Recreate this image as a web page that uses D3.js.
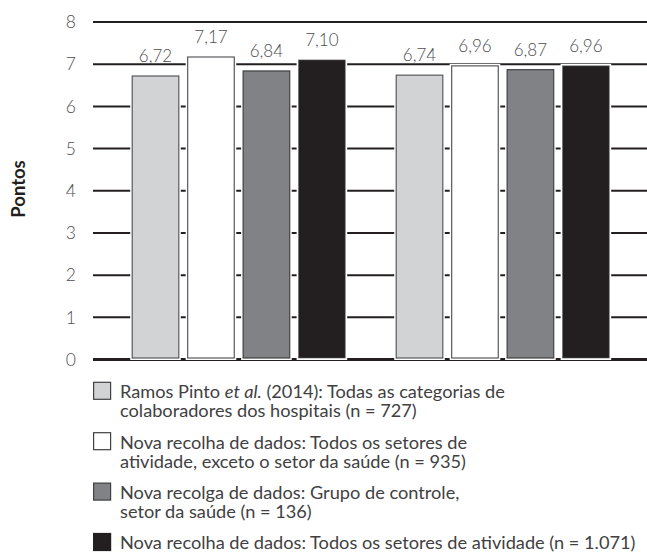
<!DOCTYPE html>
<html>
<head>
<meta charset="utf-8">
<script src="https://cdn.jsdelivr.net/npm/d3@7"></script>
<style>
  html, body { margin: 0; padding: 0; background: #fff; }
  svg { display: block; }
  text { font-family: Lato, "Open Sans", sans-serif; }
</style>
</head>
<body>
<svg id="chart" width="647" height="552"></svg>
<script>
// ---- data ----
const groups = ["Grupo A", "Grupo B"];
const seriesKeys = ["s1", "s2", "s3", "s4"];
const groupAValues = [6.72, 7.17, 6.84, 7.10];
const groupBValues = [6.74, 6.96, 6.87, 6.96];
const yTicks = [0, 1, 2, 3, 4, 5, 6, 7, 8];
const yTitle = "Pontos";
const legendLines = [
  [[{t: "Ramos Pinto "}, {t: "et al.", i: true}, {t: " (2014): Todas as categorias de"}], [{t: "colaboradores dos hospitais (n = 727)"}]],
  [[{t: "Nova recolha de dados: Todos os setores de"}], [{t: "atividade, exceto o setor da saúde (n = 935)"}]],
  [[{t: "Nova recolga de dados: Grupo de controle,"}], [{t: "setor da saúde (n = 136)"}]],
  [[{t: "Nova recolha de dados: Todos os setores de atividade (n = 1.071)"}]]
];
const fills = ["#d1d3d4", "#ffffff", "#808285", "#231f20"];
const strokes = ["#58595b", "#58595b", "#414042", "#58595b"];

const table = groups.map((g, gi) => ({
  group: g,
  values: seriesKeys.map((k, si) => ({key: k, si, value: (gi === 0 ? groupAValues : groupBValues)[si]}))
}));

// ---- layout ----
const svg = d3.select("#chart");
const plotLeft = 93, plotRight = 647;
const y = d3.scaleLinear().domain([0, 8]).range([359.5, 22]);
const x0 = d3.scaleBand().domain(groups).range([106.7, 634.7]).padding(0);
const x1 = d3.scaleBand().domain(seriesKeys).range([0, x0.bandwidth()]).paddingInner(0.16).paddingOuter(0.46);

const textColor = "#414042";

// gridlines
svg.append("g").selectAll("line").data(yTicks).join("line")
  .attr("x1", plotLeft).attr("x2", plotRight)
  .attr("y1", d => y(d)).attr("y2", d => y(d))
  .attr("stroke", "#231f20")
  .attr("stroke-width", d => d === 0 ? 3 : 2);

// tick labels
svg.append("g").selectAll("text").data(yTicks).join("text")
  .attr("x", 76).attr("y", d => y(d))
  .attr("dy", "0.36em")
  .attr("text-anchor", "end")
  .attr("font-size", 17.5)
  .attr("font-weight", 300)
  .attr("fill", "#4d4d4f")
  .text(d => d);

// bars
const gGroups = svg.append("g").selectAll("g").data(table).join("g")
  .attr("transform", d => `translate(${x0(d.group)},0)`);

gGroups.selectAll("rect.halo").data(d => d.values).join("rect")
  .attr("class", "halo")
  .attr("x", d => x1(d.key)).attr("width", x1.bandwidth())
  .attr("y", d => y(d.value)).attr("height", d => y(0) - y(d.value) - 1.5)
  .attr("fill", "#fff").attr("stroke", "#fff").attr("stroke-width", 4);

gGroups.selectAll("rect.bar").data(d => d.values).join("rect")
  .attr("class", "bar")
  .attr("x", d => x1(d.key)).attr("width", x1.bandwidth())
  .attr("y", d => y(d.value)).attr("height", d => y(0) - y(d.value) - 1.5)
  .attr("fill", d => fills[d.si])
  .attr("stroke", d => strokes[d.si])
  .attr("stroke-width", d => d.si === 3 ? 0.6 : 1.2);

// value labels
const fmt = v => d3.format(".2f")(v).replace(".", ",");
gGroups.selectAll("text").data(d => d.values).join("text")
  .attr("x", d => x1(d.key) + x1.bandwidth() / 2)
  .attr("y", d => y(d.value) - 14)
  .attr("text-anchor", "middle")
  .attr("font-size", 17)
  .attr("font-weight", 300)
  .attr("fill", "#4d4d4f")
  .text(d => fmt(d.value));

// y title
svg.append("text")
  .attr("transform", `translate(24.5,189) rotate(-90)`)
  .attr("text-anchor", "middle")
  .attr("font-size", 18.5)
  .attr("font-weight", 700)
  .attr("fill", "#231f20")
  .text(yTitle);

// legend
const legTop = 381.7, legStep = 50.4, lineH = 19;
const leg = svg.append("g").selectAll("g").data(legendLines).join("g")
  .attr("transform", (d, i) => `translate(93,${legTop + i * legStep})`);
leg.append("rect")
  .attr("x", 0.6).attr("y", 0.6).attr("width", 17).attr("height", 17)
  .attr("fill", (d, i) => fills[i])
  .attr("stroke", (d, i) => i === 3 ? fills[3] : "#414042")
  .attr("stroke-width", 1.2);
leg.each(function(lines) {
  const g = d3.select(this);
  lines.forEach((parts, li) => {
    const t = g.append("text")
      .attr("x", 27).attr("y", 16.5 + li * lineH)
      .attr("font-size", 18.2)
      .attr("font-weight", 400)
      .attr("fill", textColor);
    parts.forEach(p => {
      t.append("tspan").attr("font-style", p.i ? "italic" : "normal").text(p.t);
    });
  });
});
</script>
</body>
</html>
